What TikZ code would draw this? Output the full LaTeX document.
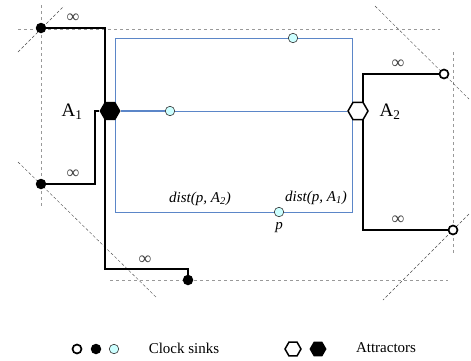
\documentclass[tikz,border=0pt]{standalone}
\usepackage{fontspec}
\setmainfont{Liberation Serif}
\usetikzlibrary{shapes.geometric}
\pgfdeclarelayer{edgelayer}
\pgfdeclarelayer{nodelayer}
\pgfsetlayers{edgelayer,nodelayer,main}
\definecolor{boxblue}{RGB}{91,134,200}
\definecolor{sinkcyan}{RGB}{204,255,255}
\tikzstyle{wire}=[draw=black, line width=1.6pt]
\tikzstyle{thinwire}=[draw=black, line width=1.1pt]
\tikzstyle{route}=[draw=boxblue, line width=0.8pt]
\tikzstyle{guide}=[draw=black!40, dash pattern=on 3pt off 3pt, line width=0.8pt]
\tikzstyle{diag}=[draw=black!70, dash pattern=on 3pt off 2pt, line width=0.4pt]
\tikzstyle{fullsink}=[circle, fill=black, inner sep=0pt, minimum size=10.5pt]
\tikzstyle{opensink}=[circle, fill=white, draw=black, line width=1.7pt, inner sep=0pt, minimum size=9pt]
\tikzstyle{tapsink}=[circle, fill=sinkcyan, draw=black!80, line width=0.6pt, inner sep=0pt, minimum size=9.5pt]
\tikzstyle{fullattr}=[regular polygon, regular polygon sides=6, fill=black, inner sep=0pt, minimum size=21pt]
\tikzstyle{openattr}=[regular polygon, regular polygon sides=6, fill=white, draw=black, line width=1.5pt, inner sep=0pt, minimum size=20pt]
\tikzstyle{infty}=[font=\fontsize{18}{18}\selectfont, text=black!75]
\tikzstyle{dist}=[font=\fontsize{15}{15}\selectfont\itshape]

\begin{document}
\begin{tikzpicture}[x=1pt, y=-1pt]
				\useasboundingbox (0, 0) rectangle (471, 360);
				\begin{pgfonlayer}{nodelayer}
					\node [style=fullattr] (4) at (110, 111) {};
					\node [style=openattr] (7) at (358, 111) {};
					\node [style=fullsink] (1) at (41, 28) {};
					\node [style=fullsink] (2) at (41, 184) {};
					\node [style=fullsink] (3) at (188, 280) {};
					\node [style=opensink] (5) at (444, 74) {};
					\node [style=opensink] (6) at (453, 230) {};
					\node [style=tapsink] (8) at (170, 111) {};
					\node [style=tapsink] (9) at (293, 38) {};
					\node [style=tapsink] (10) at (279, 212) {};
					\node [font=\fontsize{19}{19}\selectfont] (11) at (72, 112) {A\textsubscript{1}};
					\node [font=\fontsize{19}{19}\selectfont] (12) at (390, 112) {A\textsubscript{2}};
					\node [style=infty] (13) at (73, 18) {∞};
					\node [style=infty] (14) at (73, 174) {∞};
					\node [style=infty] (15) at (145, 260) {∞};
					\node [style=infty] (16) at (398, 64) {∞};
					\node [style=infty] (17) at (398, 220) {∞};
					\node [style=dist] (18) at (200, 199) {dist(p, A\textsubscript{2})};
					\node [style=dist] (19) at (316, 198) {dist(p, A\textsubscript{1})};
					\node [style=dist] (20) at (279, 228) {p};
					\node [style=opensink] (21) at (77, 349) {};
					\node [style=fullsink] (22) at (96, 349) {};
					\node [style=tapsink] (23) at (114, 349) {};
					\node [font=\fontsize{15}{15}\selectfont] (24) at (184, 348) {Clock sinks};
					\node [style=openattr, minimum size=16pt] (25) at (293, 349) {};
					\node [style=fullattr, minimum size=17pt] (26) at (318, 349) {};
					\node [font=\fontsize{15}{15}\selectfont] (27) at (386, 348) {Attractors};
				\end{pgfonlayer}
				\begin{pgfonlayer}{edgelayer}
					\coordinate (c1) at (105, 111);
					\coordinate (c2) at (188, 269);
					\coordinate (c3) at (95, 111);
					\coordinate (c4) at (363, 111);
					\draw [style=guide] (18, 29) -- (440, 29);
					\draw [style=guide] (41, 5) -- (41, 208);
					\draw [style=guide] (110, 280) -- (448, 280);
					\draw [style=guide] (453, 52) -- (453, 253);
					\draw [style=diag] (18, 52) -- (64, 6);
					\draw [style=diag] (18, 162) -- (157, 298);
					\draw [style=diag] (375, 6) -- (469, 99);
					\draw [style=diag] (469, 214) -- (383, 300);
					\draw [style=route] (115, 38) rectangle (352, 212);
					\draw [style=route, line width=1.5pt] (4) to (8);
					\draw [style=route] (8) to (7);
					\draw [style=wire] (1) -| (c1);
					\draw [style=wire] (c1) |- (c2) to (3);
					\draw [style=thinwire] (2) -| (c3) to (4);
					\draw [style=wire] (c4) |- (5);
					\draw [style=wire] (c4) |- (6);
				\end{pgfonlayer}
			\end{tikzpicture}
\end{document}
